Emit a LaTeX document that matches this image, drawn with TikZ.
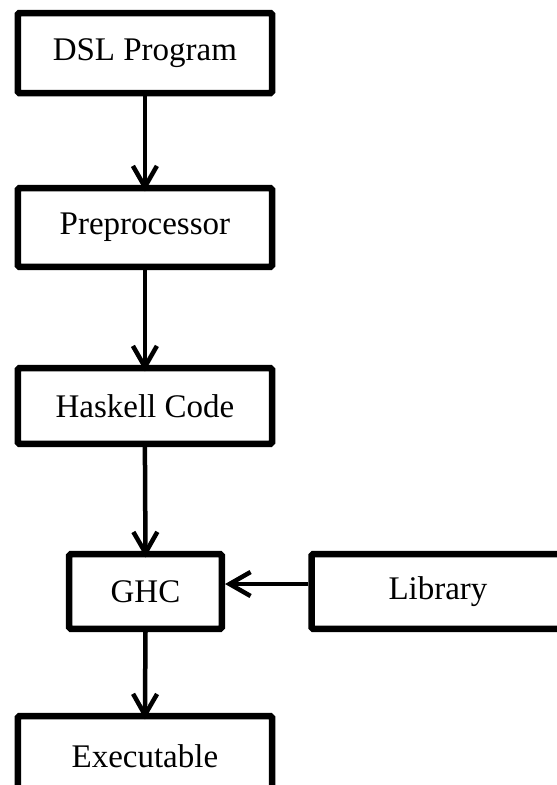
\documentclass[tikz,border=0pt]{standalone}
\usepackage{fontspec}
\setmainfont{Liberation Serif}
\usetikzlibrary{arrows.meta}
\begin{document}
\begin{tikzpicture}[x=1pt,y=-1pt,
  box/.style={draw=black, line width=6.5pt, rounded corners=1.5pt, fill=white,
    inner sep=0pt, outer sep=0pt, font=\fontsize{33}{39}\selectfont},
  flow/.style={line width=4.5pt, -{Straight Barb[length=21pt,width=24pt,line width=4.5pt]}}]
\useasboundingbox (0,0) rectangle (557,785);
\clip (0,0) rectangle (557,785);
\node[box, minimum width=254.3pt, minimum height=80pt] (dsl) at (144.9,53) {DSL Program};
\node[box, minimum width=254.3pt, minimum height=78.6pt] (pre) at (144.9,227.5) {Preprocessor};
\node[box, minimum width=254.3pt, minimum height=75.6pt] (hs) at (144.9,406) {Haskell Code};
\node[box, minimum width=152.6pt, minimum height=74.6pt] (ghc) at (145.5,591.5) {GHC};
\node[box, minimum width=263.5pt, minimum height=74.6pt, text width=263.5pt, align=left] (lib) at (443.25,591.5) {\hspace*{77pt}Library};
\node[box, minimum width=254.3pt, minimum height=80pt] (exe) at (144.9,756.2) {Executable};
\draw[flow] (dsl.south) ++(0,3.25) -- ([yshift=-3.25pt]pre.north);
\draw[flow] (pre.south) ++(0,3.25) -- ([yshift=-3.25pt]hs.north);
\draw[flow] (hs.south) ++(0,3.25) -- ([yshift=-3.25pt]ghc.north);
\draw[flow] (ghc.south) ++(0,3.25) -- ([yshift=-3.25pt]exe.north);
\draw[flow, line width=4pt] ([xshift=-3.25pt,yshift=7.5pt]lib.west) -- ([xshift=3.25pt,yshift=7.5pt]ghc.east);
\end{tikzpicture}
\end{document}
